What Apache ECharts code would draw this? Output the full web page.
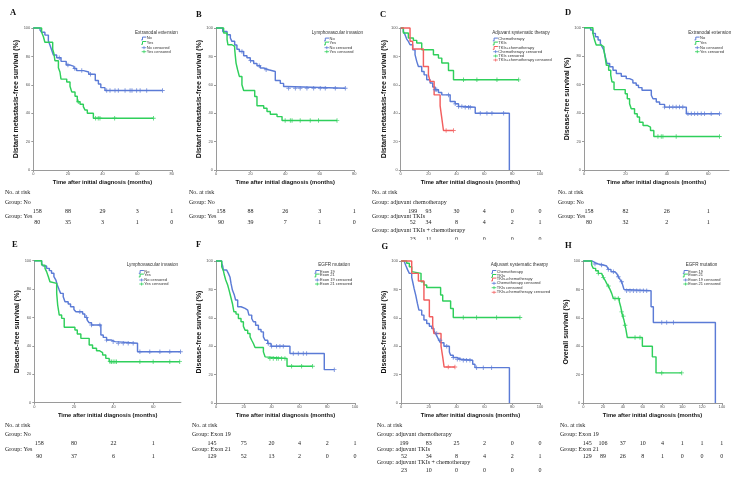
<!DOCTYPE html>
<html><head><meta charset="utf-8">
<script src="https://cdn.jsdelivr.net/npm/echarts@6/dist/echarts.min.js"></script>
<style>html,body{margin:0;padding:0;background:#fff}#c{width:745px;height:484px}</style>
</head><body><div id="c"></div>
<script>
// ---------- DATA ----------
// Panel A (DMFS, extranodal extension)
const A_ticks=[0,20,40,60,80];
const A_no=[[0,100],[3.9,98.5],[4.8,97],[6.7,95],[8.7,91],[9.6,88],[10.6,84.5],[11.6,81],[13.5,79],[16,76.5],[19,74],[21,73],[23.5,71.5],[25,70],[29,69],[32,67.5],[35.8,63],[37.6,60.5],[39,58],[41.4,56],[74.6,56]];
const A_noCens=[15,20,24,28,33,42.4,44.3,47.2,49.1,53,55.9,57,59.7,61.7,65.5,74.6];
const A_yes=[[0,100],[4.8,97],[5.8,94],[6.7,90],[11.2,85],[11.9,82],[12.5,77],[14.5,72],[15.4,69],[16,64],[19.3,62],[21.2,59],[22.2,55],[24.1,52],[25.4,48],[27,46.3],[28.9,44.6],[29.9,42.2],[31.2,40],[34.7,36.4],[69.4,36.4]];
const A_yesCens=[26,36,37.5,38.5,47,69.4];
const A_riskNo=[158,88,29,3,1];
const A_riskYes=[80,35,3,1,0];
// Panel B (DMFS, lymphovascular invasion)
const B_ticks=[0,20,40,60,80];
const B_no=[[0,100],[3.9,97.6],[6.4,95.3],[8.3,93],[9.2,90.6],[10.8,88],[12.1,85],[13.5,83.5],[16,80.5],[17.9,79],[19.8,77],[21.8,75],[23.7,73.4],[25.6,71.8],[27.6,70.6],[30.4,69.4],[34.3,63],[37.2,61],[39.1,58.8],[40.5,57.6],[74.8,57.6]];
const B_noCens=[15,20,25,29,42,45.9,48.7,52.6,56.5,60.3,63.2,69,74.8];
const B_yes=[[0,100],[4.4,96.5],[6.4,91.8],[6.9,88.2],[9.2,87],[10.8,85.2],[11.2,80],[11.6,75.3],[12.5,70.6],[13.5,65.9],[15,60],[16,56],[22.4,51.8],[23.7,45.2],[27.6,43.5],[29.5,41.2],[31.4,39.3],[35.3,37.6],[38.2,34.8],[70,34.8]];
const B_yesCens=[40,43,44,48.7,54.5,59.3,70];
const B_riskNo=[158,88,26,3,1];
const B_riskYes=[90,39,7,1,0];
// Panel C (DMFS, adjuvant therapy)
const C_ticks=[0,20,40,60,80,100];
const C_chemo=[[0,100],[1.9,97.6],[3.1,95.3],[4.3,92.2],[5.5,90.6],[6.7,88.2],[8.6,84.7],[10.3,81.2],[11.5,76.5],[12.7,72.9],[15.1,69.4],[16.8,67],[18.7,63.5],[21.1,61.2],[23,58.4],[24.7,56.5],[27.1,54.6],[29.5,52.9],[35.5,48.2],[39.1,46.6],[41.5,44.7],[45,44.2],[53.5,40],[78,0]];
const C_chemoCens=[24.7,25.9,34.3,39.1,41.5,43.9,46.3,48.7,49.9,57.1,61.9,65.5,73.9];
const C_tki=[[0,100],[1.9,96.5],[5.5,93],[9.1,91.3],[11.5,89.4],[15.1,84.7],[23.5,81.2],[27.1,78.8],[29.5,75.3],[34.3,70.1],[37.9,63.5],[84.7,63.5]];
const C_tkiCens=[45.1,54.7,69.1,84.7];
const C_combo=[[0,100],[6.7,90.6],[8.6,85.2],[16.3,72.9],[19.9,67],[21.1,62.4],[24,52.9],[28.3,45.2],[29.5,36.5],[30.7,27.8],[37.9,27.8]];
const C_comboCens=[32.6,37.9];
const C_riskChemo=[199,93,30,4,0,0];
const C_riskTki=[52,34,8,4,2,1];
const C_riskCombo=[23,11,0,0,0,0];
// Panel D (DFS, extranodal extension)
const D_ticks=[0,20,40,60];
const D_no=[[0,100],[3.2,98.4],[4.3,96],[5.5,93.6],[6.8,91.3],[7.9,88.9],[8.7,86.6],[9.6,84.2],[10.3,79.5],[11.1,74.8],[12.4,72.5],[14,70.1],[15.6,67.8],[18,65.9],[20.4,64.2],[22,63.1],[23.6,61.2],[25.2,59.5],[26.3,57.9],[28,56],[32.5,52.5],[33.3,50.1],[34.9,47.8],[36.5,46.1],[38.9,44.2],[49.4,39.5],[65.4,39.5]];
const D_noCens=[38.9,41.3,42.9,44.5,46.1,47.7,50.2,51.8,53.4,54.9,56.6,58.2,61.4,65.4];
const D_yes=[[0,100],[4.3,96],[5.1,91.3],[5.9,87.8],[8.4,86.6],[9.6,84.2],[10.3,78.4],[10.8,73.6],[11.9,70.1],[12.9,66.6],[13.5,61.9],[14.5,56.5],[19.9,53.6],[20.9,50.1],[22,46.6],[22.8,43.1],[24.4,39.5],[25.7,37.2],[26.8,33.6],[28.5,31.3],[30.5,30.1],[32.1,27.8],[33.7,23.5],[65.4,23.5]];
const D_yesCens=[35.7,37.3,38.1,44.5,65.4];
const D_riskNo=[158,82,26,1];
const D_riskYes=[80,32,2,1];
// Panel E (DFS, lymphovascular invasion)
const E_ticks=[0,20,40,60];
const E_no=[[0,100],[3.7,98.1],[4.5,96.2],[6.2,94.6],[7.6,93],[8.7,91.1],[9.9,88.7],[10.9,86.4],[11.6,82.9],[12.6,79.3],[13.3,77],[14.6,74.6],[15.5,71.1],[17.1,69.5],[18.3,67.6],[20,65.7],[21,64.1],[24.4,62.4],[25.5,60.1],[26.7,58.2],[27.7,56.3],[28.9,54.7],[33.6,47.7],[34.8,46],[36.5,44.1],[39,43],[40.7,41.8],[52.1,35.9],[73.8,35.9]];
const E_noCens=[23,26.4,28.9,33.1,36.5,39.8,42.4,44.9,47.4,49.9,53.3,58.3,63.4,68.4,73.8];
const E_yes=[[0,100],[3.7,96.9],[5.4,94.6],[6.2,92.3],[7.1,88.7],[7.9,85.2],[8.7,84],[11.3,77],[11.8,68.8],[12.6,61.7],[13.8,59.4],[15.1,53.1],[20.5,51.2],[21.7,48.4],[23.5,45.3],[27.7,40.6],[29.4,38.3],[31.4,36.6],[32.8,35.2],[34.5,33.6],[36.1,31.2],[37.8,28.9],[73.4,28.9]];
const E_yesCens=[38.2,39,39.8,40.7,41.5,53.3,60,68.4,73.4];
const E_riskNo=[158,80,22,1];
const E_riskYes=[90,37,6,1];
// Panel F (DFS, EGFR mutation)
const F_ticks=[0,20,40,60,80,100];
const F_ex19=[[0,100],[4.1,98.4],[4.8,96.5],[5.3,93.6],[7.7,92.5],[8.9,91.3],[10.1,88.5],[10.8,84.2],[11.8,79.5],[13.2,76],[14.1,72.5],[15.6,67.8],[18,66.6],[20.9,65.4],[22.8,64.2],[23.7,61.9],[25.7,59.5],[26.9,57.2],[28.5,54.8],[30.5,51.8],[32.4,50.1],[34.1,46.6],[35.3,44.2],[37.2,41.9],[39.6,40],[53.2,34.8],[77.9,23.5],[85.1,23.5]];
const F_ex19Cens=[37.6,40,43.6,46,48.4,55.6,59.2,62.8,65.2,85.1];
const F_ex21=[[0,100],[4.1,96],[5.3,93.2],[6,90.1],[7,86.6],[8.4,83.1],[9.4,79.5],[10.6,74.8],[11.8,70.1],[12.9,64.2],[14.4,62.6],[16.1,59.5],[18,57.2],[19.7,54.1],[20.9,51.3],[22.8,48.9],[24.5,46.6],[25.7,44.2],[26.9,41.9],[28.1,39.1],[34.1,36],[35.3,32.5],[36.5,31.3],[51.1,25.9],[69.5,25.9]];
const F_ex21Cens=[38.8,41.2,43.6,44.8,47.2,49.6,54.4,61.6,69.5];
const F_risk19=[145,75,20,4,2,1];
const F_risk21=[129,52,13,2,0,0];
// Panel G (DFS, adjuvant therapy)
const G_ticks=[0,20,40,60,80,100];
const G_chemo=[[0,100],[2.2,98.8],[3.6,96.5],[4.6,94.1],[6,91.3],[7.7,88.5],[8.4,85.4],[9.4,80.7],[10.6,76],[11.8,70.1],[12.9,65.4],[14.9,61.9],[16.5,58.4],[18.5,56],[20.4,54.1],[22.1,52.5],[23.7,50.8],[24.9,48.9],[26.1,46.6],[27.3,44.2],[28.5,42.4],[30.9,40],[34.8,36],[35.7,33.6],[37.6,32],[40.5,30.8],[42.9,30.1],[51.6,27.3],[53.2,24.9],[78,0]];
const G_chemoCens=[25.7,28.1,32.9,37.6,40.5,42.4,44.8,47.2,49.6,54.4,59.2,65.2];
const G_tki=[[0,100],[4.1,98.4],[6,96],[7.7,92.5],[8.9,91.3],[14.4,85.4],[16.5,83.1],[18.5,81.4],[28.5,76],[30,71.8],[35.7,66.6],[37.6,60.2],[85.6,60.2]];
const G_tkiCens=[44.8,54.4,68.8,85.6];
const G_combo=[[0,100],[7.7,91.3],[12.5,85.9],[16.5,72.5],[20.4,60.7],[22.8,54.8],[23.7,48.9],[28.8,40],[30,32.5],[31,25.4],[38.8,25.4]];
const G_comboCens=[34,38.8];
const G_riskChemo=[199,83,25,2,0,0];
const G_riskTki=[52,34,8,4,2,1];
const G_riskCombo=[23,10,0,0,0,0];
// Panel H (OS, EGFR mutation)
const H_ticks=[0,20,40,60,80,100,120,140];
const H_ex19=[[0,100],[9.1,98.8],[11.8,97.9],[15.2,97.2],[20.2,96.5],[23.6,95.5],[25.3,94.1],[28,92.5],[31.4,91.3],[33.7,90.1],[35.4,88.9],[37.1,87.1],[38.8,85.4],[39.8,83.1],[41.1,80],[42.2,79.1],[68.5,67.8],[70.8,56.7],[133.5,0]];
const H_ex19Cens=[11.8,18.5,25.3,30.4,35.4,38.8,43.8,47.2,50.6,54,57.3,60.7,64.1,79.3,84.3,91.1];
const H_ex21=[[0,100],[8.4,97.2],[10.1,94.8],[12.5,93.2],[15.2,91.3],[18.5,90.1],[20.2,88.5],[21.9,86.6],[23.6,84.2],[25.3,82.4],[27,80],[28.7,77.2],[30.4,73.6],[36.4,71.3],[37.8,67.8],[38.8,64.2],[39.8,61.2],[41.1,58.4],[42.2,54.8],[43.2,51.3],[44.5,46.1],[59.7,40],[69.8,32.5],[73.5,21.2],[99.5,21.2]];
const H_ex21Cens=[15.2,20.2,25.3,32,35.4,38.8,40.5,42.2,52.3,57.3,79.3,99.5];
const H_risk19=[145,106,37,10,4,1,1,1];
const H_risk21=[129,89,26,8,1,0,0,0];

// ---------- TEXT ----------
const X_TITLE='Time after initial diagnosis (months)';
const Y_DMFS='Distant metastasis-free survival (%)';
const Y_DFS='Disease-free survival (%)';
const Y_OS='Overall survival (%)';
const NAMES_YN=['No','Yes'];
const NAMES_THER=['Chemotherapy','TKIs','TKIs+chemotherapy'];
const NAMES_EGFR=['Exon 19','Exon 21'];
const GROUPS_YN=['Group: No','Group: Yes'];
const GROUPS_THER=['Group: adjuvant chemotherapy','Group: adjuvant TKIs','Group: adjuvant TKIs + chemotherapy'];
const GROUPS_EGFR=['Group: Exon 19','Group: Exon 21'];

// ---------- STYLE / LAYOUT ----------
const BLUE='#5b7bd6', GREEN='#2fcf5b', RED='#f25f5f';
const SANS='"Liberation Sans", Arial, sans-serif';
const SERIF='"Liberation Serif", "Times New Roman", serif';
const AXC='#9a9a9a';
const TOP_RISK_Y=[192.3,202.3,211.3,216.7,222.7,230,239.3];
const BOT_RISK_Y=[425,434,443.3,449.3,456.7,462.7,470.7];
const PLUS='path://M4,0H6V4H10V6H6V10H4V6H0V4H4Z';

const panels=[
 {letter:'A',lp:[10,12.5],grid:[33.3,28,138.5,142],xmax:80,ticks:A_ticks,ytitle:Y_DMFS,legTitle:'Extranodal extension',
  leg:{tx:135,ty:32.3,sx:141.7,rows:[38.3,42.7,47.7,51.7]},curves:[[A_no,A_noCens,BLUE],[A_yes,A_yesCens,GREEN]],names:NAMES_YN,
  risk:{x:5,ys:TOP_RISK_Y,groups:GROUPS_YN,rows:[A_riskNo,A_riskYes],off0:4}},
 {letter:'B',lp:[196,14.5],grid:[216,28,138.3,142],xmax:80,ticks:B_ticks,ytitle:Y_DMFS,legTitle:'Lymphovascular invasion',
  leg:{tx:311.7,ty:32.3,sx:324.5,rows:[39.3,43.3,47.7,51.7]},curves:[[B_no,B_noCens,BLUE],[B_yes,B_yesCens,GREEN]],names:NAMES_YN,
  risk:{x:189,ys:TOP_RISK_Y,groups:GROUPS_YN,rows:[B_riskNo,B_riskYes],off0:5}},
 {letter:'C',lp:[380,14.5],grid:[400.7,28,139.3,142],xmax:100,ticks:C_ticks,ytitle:Y_DMFS,legTitle:'Adjuvant systematic therapy',
  leg:{tx:492.3,ty:32.3,sx:493.3,rows:[39.3,43.3,47.7,51.7,56,60]},curves:[[C_chemo,C_chemoCens,BLUE],[C_tki,C_tkiCens,GREEN],[C_combo,C_comboCens,RED]],names:NAMES_THER,
  risk:{x:372,ys:TOP_RISK_Y,groups:GROUPS_THER,rows:[C_riskChemo,C_riskTki,C_riskCombo],off0:12}},
 {letter:'D',lp:[565,12.5],grid:[584,27.7,145,142.3],xmax:70,ticks:D_ticks,ytitle:Y_DFS,legTitle:'Extranodal extension',
  leg:{tx:688.3,ty:32.3,sx:695,rows:[38.3,42.7,47.7,51.7]},curves:[[D_no,D_noCens,BLUE],[D_yes,D_yesCens,GREEN]],names:NAMES_YN,
  risk:{x:558,ys:TOP_RISK_Y,groups:GROUPS_YN,rows:[D_riskNo,D_riskYes],off0:5}},
 {letter:'E',lp:[12,245],grid:[34.3,260.7,146.6,142],xmax:74,ticks:E_ticks,ytitle:Y_DFS,legTitle:'Lymphovascular invasion',
  leg:{tx:126.7,ty:264.3,sx:139.3,rows:[271.7,275.3,280,284]},curves:[[E_no,E_noCens,BLUE],[E_yes,E_yesCens,GREEN]],names:NAMES_YN,
  risk:{x:5,ys:BOT_RISK_Y,groups:GROUPS_YN,rows:[E_riskNo,E_riskYes],off0:5}},
 {letter:'F',lp:[196,245],grid:[216,261,139,142],xmax:100,ticks:F_ticks,ytitle:Y_DFS,legTitle:'EGFR mutation',
  leg:{tx:318.3,ty:265,sx:315,rows:[271.7,275.3,280,284]},curves:[[F_ex19,F_ex19Cens,BLUE],[F_ex21,F_ex21Cens,GREEN]],names:NAMES_EGFR,
  risk:{x:192,ys:BOT_RISK_Y,groups:GROUPS_EGFR,rows:[F_risk19,F_risk21],off0:-4}},
 {letter:'G',lp:[381.5,246.5],grid:[401,261,139,142],xmax:100,ticks:G_ticks,ytitle:Y_DFS,legTitle:'Adjuvant systematic thearpy',
  leg:{tx:490.7,ty:264.3,sx:491.7,rows:[271.7,275.7,279.3,283.3,287.7,292.3]},curves:[[G_chemo,G_chemoCens,BLUE],[G_tki,G_tkiCens,GREEN],[G_combo,G_comboCens,RED]],names:NAMES_THER,
  risk:{x:377,ys:BOT_RISK_Y,groups:GROUPS_THER,rows:[G_riskChemo,G_riskTki,G_riskCombo],off0:3}},
 {letter:'H',lp:[565,246],grid:[583.3,261,138.5,142],xmax:140,ticks:H_ticks,ytitle:Y_OS,legTitle:'EGFR mutation',
  leg:{tx:685.7,ty:265,sx:683.3,rows:[271.7,275.3,280,284]},curves:[[H_ex19,H_ex19Cens,BLUE],[H_ex21,H_ex21Cens,GREEN]],names:NAMES_EGFR,
  risk:{x:560,ys:BOT_RISK_Y,groups:GROUPS_EGFR,rows:[H_risk19,H_risk21],off0:4}}
];

function survAt(curve,t){let v=curve[0][1];for(const p of curve){if(p[0]<=t+1e-9)v=p[1];else break;}return v;}

const chart=echarts.init(document.getElementById('c'),null,{renderer:'canvas',width:745,height:484});
const option={animation:false,backgroundColor:'#ffffff',grid:[],xAxis:[],yAxis:[],series:[]};
panels.forEach((p,i)=>{
  option.grid.push({left:p.grid[0],top:p.grid[1],width:p.grid[2],height:p.grid[3],containLabel:false});
  option.xAxis.push({type:'value',gridIndex:i,min:0,max:p.xmax,
    name:X_TITLE,nameLocation:'middle',nameGap:9.3,
    nameTextStyle:{fontFamily:SANS,fontSize:5.8,fontWeight:'bold',color:'#111'},
    axisLine:{show:true,lineStyle:{color:AXC,width:1}},
    axisTick:{show:true,length:2,customValues:p.ticks,lineStyle:{color:AXC}},
    axisLabel:{show:true,customValues:p.ticks,fontSize:4,color:'#555',margin:2,fontFamily:SANS},
    splitLine:{show:false}});
  option.yAxis.push({type:'value',gridIndex:i,min:0,max:100,interval:20,
    name:p.ytitle,nameLocation:'middle',nameGap:12.5,nameRotate:90,
    nameTextStyle:{fontFamily:SANS,fontSize:7,fontWeight:'bold',color:'#111'},
    axisLine:{show:true,lineStyle:{color:AXC,width:1}},
    axisTick:{show:true,length:2,lineStyle:{color:AXC}},
    axisLabel:{show:true,fontSize:4,color:'#555',margin:3,fontFamily:SANS},
    splitLine:{show:false}});
  p.curves.forEach(c=>{
    option.series.push({type:'line',xAxisIndex:i,yAxisIndex:i,data:c[0],step:'end',symbol:'none',showSymbol:false,
      lineStyle:{color:c[2],width:1.45},itemStyle:{color:c[2]},clip:false,silent:true,z:3});
    option.series.push({type:'scatter',xAxisIndex:i,yAxisIndex:i,data:c[1].map(t=>[t,survAt(c[0],t)]),
      symbol:PLUS,symbolSize:4.5,itemStyle:{color:c[2]},silent:true,z:4});
  });
});
chart.setOption(option);

function txt(x,y,s,font,align,fill,z){
  return {type:'text',x:x,y:y,silent:true,z:z||10,
    style:{text:s,font:font,fill:fill||'#222',textAlign:align||'left',align:align||'left',textVerticalAlign:'middle',verticalAlign:'middle'}};
}
const g=[];
panels.forEach((p,i)=>{
  g.push(txt(p.lp[0],p.lp[1],p.letter,'bold 8.5px '+SERIF,'left','#111',80));
  // legend
  const L=p.leg;
  g.push(txt(L.tx,L.ty,p.legTitle,'4.6px '+SANS,'left','#333'));
  const n=p.curves.length;
  p.curves.forEach((c,k)=>{
    const y=L.rows[k];
    g.push({type:'polyline',silent:true,z:10,shape:{points:[[L.sx-0.5,y+1.6],[L.sx+0.8,y+1.6],[L.sx+0.8,y-1.2],[L.sx+4.6,y-1.2]]},style:{stroke:c[2],lineWidth:1,fill:null}});
    g.push(txt(L.sx+5,y,p.names[k],'4px '+SANS,'left','#333'));
    const y2=L.rows[n+k];
    g.push({type:'polyline',silent:true,z:10,shape:{points:[[L.sx,y2],[L.sx+4.6,y2]]},style:{stroke:c[2],lineWidth:0.8,fill:null}});
    g.push({type:'polyline',silent:true,z:10,shape:{points:[[L.sx+2.3,y2-1.5],[L.sx+2.3,y2+1.5]]},style:{stroke:c[2],lineWidth:0.8,fill:null}});
    g.push(txt(L.sx+5,y2,p.names[k]+' censored','4px '+SANS,'left','#333'));
  });
  // risk table
  const R=p.risk;
  g.push(txt(R.x,R.ys[0],'No. at risk','6px '+SERIF,'left'));
  R.rows.forEach((row,k)=>{
    g.push(txt(R.x,R.ys[1+2*k],R.groups[k],'6px '+SERIF,'left'));
    row.forEach((v,j)=>{
      const px=chart.convertToPixel({xAxisIndex:i},p.ticks[j]);
      g.push(txt(px+(j===0?R.off0:0),R.ys[2+2*k],String(v),'6px '+SERIF,'center'));
    });
  });
});
// the reference crops panel C's last risk row at the panel edge
g.push({type:'rect',silent:true,z:50,shape:{x:370,y:239.8,width:185,height:2.5},style:{fill:'#ffffff'}});
chart.setOption({graphic:{elements:g}});
</script></body></html>
